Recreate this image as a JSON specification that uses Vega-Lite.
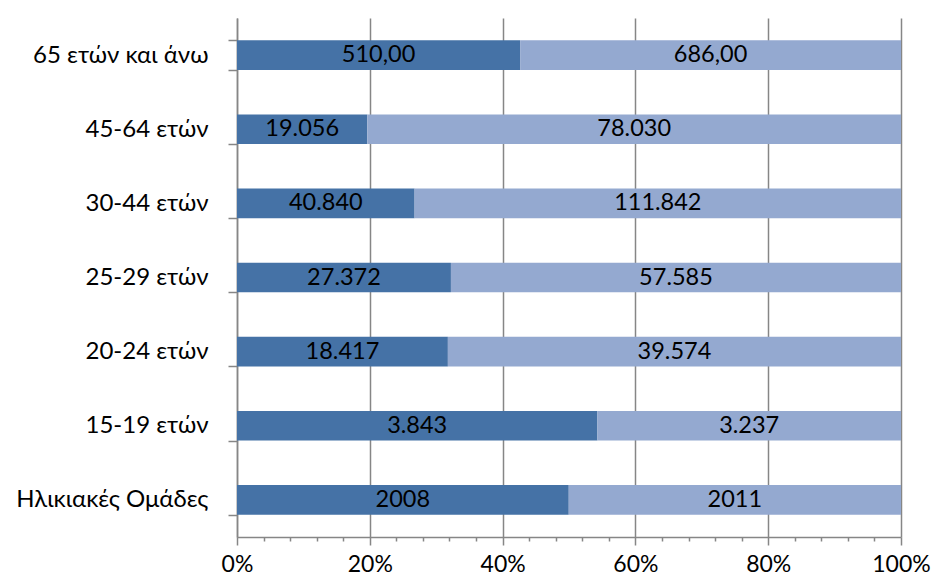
{
  "$schema": "https://vega.github.io/schema/vega-lite/v6.json",
  "autosize": "none",
  "width": 664,
  "height": 519,
  "padding": {"left": 237, "top": 18, "right": 34, "bottom": 47},
  "background": "white",
  "config": {
    "font": "Lato",
    "view": {"stroke": null},
    "axis": {"labelFont": "Lato", "labelColor": "black", "domainColor": "#868686", "tickColor": "#868686", "gridColor": "#868686"}
  },
  "data": {
    "values": [
      {"age": "65 ετών και άνω", "year": "2008", "value": 510, "label": "510,00"},
      {"age": "65 ετών και άνω", "year": "2011", "value": 686, "label": "686,00"},
      {"age": "45-64 ετών", "year": "2008", "value": 19056, "label": "19.056"},
      {"age": "45-64 ετών", "year": "2011", "value": 78030, "label": "78.030"},
      {"age": "30-44 ετών", "year": "2008", "value": 40840, "label": "40.840"},
      {"age": "30-44 ετών", "year": "2011", "value": 111842, "label": "111.842"},
      {"age": "25-29 ετών", "year": "2008", "value": 27372, "label": "27.372"},
      {"age": "25-29 ετών", "year": "2011", "value": 57585, "label": "57.585"},
      {"age": "20-24 ετών", "year": "2008", "value": 18417, "label": "18.417"},
      {"age": "20-24 ετών", "year": "2011", "value": 39574, "label": "39.574"},
      {"age": "15-19 ετών", "year": "2008", "value": 3843, "label": "3.843"},
      {"age": "15-19 ετών", "year": "2011", "value": 3237, "label": "3.237"},
      {"age": "Ηλικιακές Ομάδες", "year": "2008", "value": 2008, "label": "2008"},
      {"age": "Ηλικιακές Ομάδες", "year": "2011", "value": 2011, "label": "2011"}
    ]
  },
  "transform": [
    {"stack": "value", "groupby": ["age"], "sort": [{"field": "year", "order": "ascending"}], "offset": "normalize", "as": ["x0", "x1"]},
    {"calculate": "(datum.x0 + datum.x1) / 2", "as": "xm"}
  ],
  "encoding": {
    "y": {
      "field": "age", "type": "nominal",
      "sort": ["65 ετών και άνω", "45-64 ετών", "30-44 ετών", "25-29 ετών", "20-24 ετών", "15-19 ετών", "Ηλικιακές Ομάδες"],
      "scale": {"paddingInner": 0.6, "paddingOuter": 0.3},
      "axis": {"title": null, "tickBand": "extent", "tickSize": 9, "labelFontSize": 24, "labelPadding": 20, "labelLimit": 400, "domainWidth": 1.5, "tickWidth": 1.5}
    }
  },
  "layer": [
    {
      "mark": {"type": "bar"},
      "encoding": {
        "x": {
          "field": "x0", "type": "quantitative",
          "scale": {"domain": [0, 1], "nice": false},
          "axis": {
            "title": null, "format": ".0%", "tickCount": 60,
            "values": [0, 0.04, 0.08, 0.12, 0.16, 0.2, 0.24, 0.28, 0.32, 0.36, 0.4, 0.44, 0.48, 0.52, 0.56, 0.6, 0.64, 0.68, 0.72, 0.76, 0.8, 0.84, 0.88, 0.92, 0.96, 1],
            "labelExpr": "abs(datum.value*5 - round(datum.value*5)) < 0.001 ? datum.label : ''",
            "labelFontSize": 23, "labelPadding": 8, "labelFlush": false, "labelOverlap": false,
            "grid": true,
            "gridOpacity": {"condition": {"test": "abs(datum.value*5 - round(datum.value*5)) < 0.001", "value": 1}, "value": 0},
            "gridWidth": 1.5,
            "tickSize": {"condition": {"test": "abs(datum.value*5 - round(datum.value*5)) < 0.001", "value": 8}, "value": 4},
            "tickWidth": 1.5, "domainWidth": 1.5
          }
        },
        "x2": {"field": "x1"},
        "color": {
          "field": "year", "type": "nominal",
          "scale": {"domain": ["2008", "2011"], "range": ["#4572a6", "#94a9d0"]},
          "legend": null
        }
      }
    },
    {
      "mark": {"type": "text", "fontSize": 23.5, "color": "black", "baseline": "middle", "align": "center"},
      "encoding": {
        "x": {"field": "xm", "type": "quantitative"},
        "text": {"field": "label"}
      }
    }
  ]
}
